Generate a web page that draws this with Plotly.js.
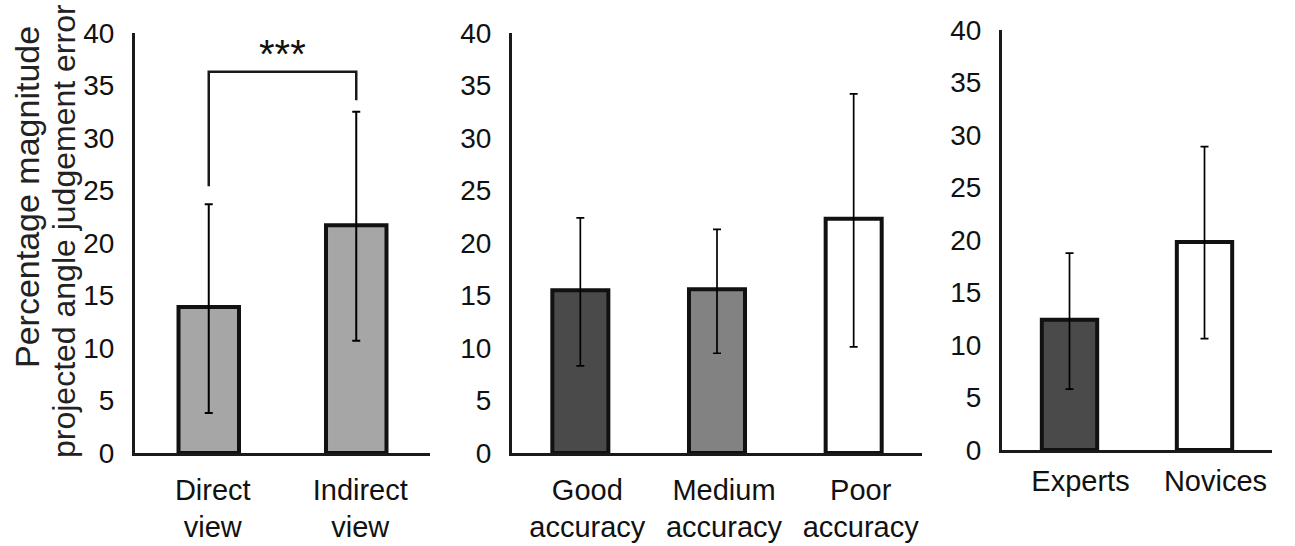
<!DOCTYPE html>
<html>
<head>
<meta charset="utf-8">
<script src="https://cdn.plot.ly/plotly-3.0.1.min.js"></script>
<style>
  html, body { margin: 0; padding: 0; background: #ffffff; }
  #chart { width: 1295px; height: 546px; }
</style>
</head>
<body>
<div id="chart"></div>
<script>
// ---- Data ----
const viewCategories = ['Direct<br>view', 'Indirect<br>view'];
const viewMeans = [13.9, 21.7];
const viewErrUp = [9.8, 10.8];
const viewErrDown = [10.1, 11.0];

const accuracyCategories = ['Good<br>accuracy', 'Medium<br>accuracy', 'Poor<br>accuracy'];
const accuracyMeans = [15.5, 15.6, 22.3];
const accuracyErrUp = [6.9, 5.7, 11.9];
const accuracyErrDown = [7.2, 6.1, 12.2];

const expertiseCategories = ['Experts', 'Novices'];
const expertiseMeans = [12.4, 19.8];
const expertiseErrUp = [6.35, 9.1];
const expertiseErrDown = [6.6, 9.2];

// significance bracket (y values in data units) and label
const sigBracketLeftEnd = 25.4;
const sigBracketTop = 36.3;
const sigBracketRightEnd = 33.6;
const sigLabel = '***';
const sigLabelY = 38.0;

const yTickVals = [0, 5, 10, 15, 20, 25, 30, 35, 40];
const yTitleLine1 = 'Percentage magnitude';
const yTitleLine2 = 'projected angle judgement error';

// ---- Styles ----
const FONT = '"Liberation Sans", Arial, Helvetica, sans-serif';
const INK = '#111111';
const OUTLINE = '#111111';

function barTrace(cats, vals, up, down, colors, xa, ya, errThick) {
  return {
    type: 'bar',
    x: cats, y: vals,
    xaxis: xa, yaxis: ya,
    width: 0.41,
    marker: { color: colors, line: { color: OUTLINE, width: 4 } },
    error_y: {
      type: 'data', symmetric: false,
      array: up, arrayminus: down,
      color: '#000000', thickness: errThick, width: 4
    },
    showlegend: false,
    hoverinfo: 'skip'
  };
}

const traces = [
  barTrace(viewCategories, viewMeans, viewErrUp, viewErrDown, ['#a6a6a6', '#a6a6a6'], 'x', 'y', 2),
  barTrace(accuracyCategories, accuracyMeans, accuracyErrUp, accuracyErrDown, ['#4a4a4a', '#828282', '#ffffff'], 'x2', 'y2', 1.7),
  barTrace(expertiseCategories, expertiseMeans, expertiseErrUp, expertiseErrDown, ['#4a4a4a', '#ffffff'], 'x3', 'y3', 1.7)
];

function xAxis(domain, anchor, n, standoff, shift) {
  return {
    domain: domain, anchor: anchor,
    type: 'category',
    range: [-0.5, n - 0.5],
    showgrid: false, zeroline: false,
    showline: true, linecolor: '#1a1a1a', linewidth: 3,
    ticks: '', ticklabelstandoff: standoff, ticklabelshift: shift,
    tickfont: { family: FONT, size: 29, color: INK },
    automargin: false, fixedrange: true
  };
}
function yAxis(domain, anchor) {
  return {
    domain: domain, anchor: anchor,
    range: [0, 40],
    tickmode: 'array', tickvals: yTickVals,
    showgrid: false, zeroline: false,
    showline: true, linecolor: '#1a1a1a', linewidth: 3,
    ticks: '', ticklabelstandoff: 12,
    tickfont: { family: FONT, size: 28, color: INK },
    automargin: false, fixedrange: true
  };
}

const layout = {
  width: 1295, height: 546,
  margin: { l: 0, r: 0, t: 0, b: 0, pad: 0 },
  paper_bgcolor: '#ffffff', plot_bgcolor: 'rgba(0,0,0,0)',
  showlegend: false,
  xaxis: xAxis([0.10425, 0.33205], 'y', viewCategories.length, 9, 4),
  yaxis: yAxis([0.17033, 0.93956], 'x'),
  xaxis2: xAxis([0.39537, 0.71197], 'y2', accuracyCategories.length, 9, 7),
  yaxis2: yAxis([0.17033, 0.93956], 'x2'),
  xaxis3: xAxis([0.77375, 0.98224], 'y3', expertiseCategories.length, 3, 11),
  yaxis3: yAxis([0.17582, 0.94505], 'x3'),
  shapes: [
    {
      type: 'path', xref: 'x', yref: 'y',
      path: 'M 0 ' + sigBracketLeftEnd + ' L 0 ' + sigBracketTop +
            ' L 1 ' + sigBracketTop + ' L 1 ' + sigBracketRightEnd,
      line: { color: '#1a1a1a', width: 2.5 }
    }
  ],
  annotations: [
    {
      text: sigLabel, xref: 'x', yref: 'y', x: 0.5, y: sigLabelY,
      showarrow: false, xanchor: 'center', yanchor: 'middle',
      font: { family: FONT, size: 40, color: INK }
    },
    {
      text: yTitleLine1, xref: 'paper', yref: 'paper',
      x: 27 / 1295, y: 1 - 197 / 546, textangle: -90,
      showarrow: false, xanchor: 'center', yanchor: 'middle',
      font: { family: FONT, size: 34, color: '#222222' }
    },
    {
      text: yTitleLine2, xref: 'paper', yref: 'paper',
      x: 64 / 1295, y: 1 - 231 / 546, textangle: -90,
      showarrow: false, xanchor: 'center', yanchor: 'middle',
      font: { family: FONT, size: 32, color: '#222222' }
    }
  ]
};

Plotly.newPlot('chart', traces, layout, { staticPlot: true, displayModeBar: false });
</script>
</body>
</html>
